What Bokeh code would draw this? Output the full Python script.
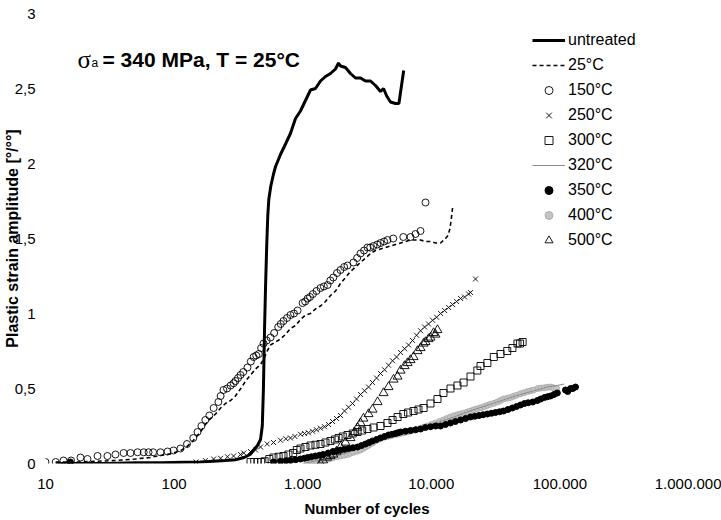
from bokeh.plotting import figure
from bokeh.models import Label, Legend, LegendItem, FixedTicker
from bokeh.embed import file_html
from bokeh.resources import INLINE

# ---------------- data ----------------
x_ticks = [10, 100, 1000, 10000, 100000, 1000000]
x_tick_labels = ["10", "100", "1.000", "10.000", "100.000", "1.000.000"]
y_ticks = [0, 0.5, 1, 1.5, 2, 2.5, 3]
y_tick_labels = ["0", "0,5", "1", "1,5", "2", "2,5", "3"]

series_names = ["untreated", "25°C", "150°C", "250°C", "300°C", "320°C", "350°C", "400°C", "500°C"]

untreated_N = [12, 20, 30, 50, 80, 120, 160, 200, 250, 300, 350, 390, 415, 445, 470, 485, 495, 505, 515, 525,
               535, 545, 565, 593, 615, 672, 735, 803, 879, 961, 1051, 1150, 1257, 1375, 1504, 1645, 1799, 1900,
               1967, 2151, 2353, 2574, 2815, 3078, 3367, 3682, 4027, 4250, 4500, 4817, 5268, 5600, 6100]
untreated_y = [0.0, 0.0, 0.0, 0.005, 0.005, 0.008, 0.01, 0.015, 0.02, 0.025, 0.04, 0.06, 0.09, 0.12, 0.16, 0.25,
               0.5, 0.9, 1.2, 1.45, 1.65, 1.76, 1.85, 1.93, 1.98, 2.06, 2.13, 2.2, 2.3, 2.35, 2.42, 2.49, 2.5, 2.55,
               2.58, 2.6, 2.63, 2.67, 2.65, 2.64, 2.6, 2.57, 2.57, 2.55, 2.55, 2.52, 2.48, 2.5, 2.45, 2.41, 2.4,
               2.4, 2.62]

d25_N = [12, 18, 25, 35, 50, 65, 80, 95, 112, 125, 140, 160, 175, 192, 210, 230, 251, 275, 300, 330, 360, 393,
         430, 470, 500, 530, 562, 615, 672, 735, 803, 880, 961, 1050, 1150, 1257, 1375, 1504, 1645, 1800, 1967,
         2151, 2353, 2574, 2815, 3078, 3367, 3682, 4027, 4405, 4817, 5268, 5762, 6300, 6900, 7540, 8240, 9016,
         9860, 10780, 11790, 12900, 13500, 14000, 14300, 14700]
d25_y = [0.01, 0.01, 0.015, 0.02, 0.03, 0.04, 0.055, 0.065, 0.085, 0.11, 0.15, 0.21, 0.26, 0.3, 0.33, 0.37, 0.4,
         0.42, 0.45, 0.5, 0.55, 0.59, 0.63, 0.66, 0.7, 0.75, 0.79, 0.81, 0.83, 0.86, 0.9, 0.92, 0.96, 0.99, 1.0,
         1.03, 1.05, 1.08, 1.12, 1.15, 1.2, 1.24, 1.28, 1.31, 1.34, 1.37, 1.4, 1.42, 1.43, 1.44, 1.45, 1.46, 1.47,
         1.48, 1.49, 1.49, 1.49, 1.48, 1.48, 1.47, 1.47, 1.5, 1.52, 1.57, 1.63, 1.72]

c150_N = [10, 12, 13.8, 15.8, 18.7, 21.2, 25.4, 30.3, 35, 40.5, 45.8, 52, 58, 63.3, 68.7, 78.4, 88.9, 99, 112,
          126, 141, 152, 163, 175, 188, 203, 221, 230, 242, 258, 275, 290, 300, 314, 328, 345, 372, 395, 415, 435,
          455, 475, 496, 525, 562, 600, 645, 675, 709, 755, 803, 855, 912, 998, 1045, 1092, 1140, 1200, 1280,
          1375, 1460, 1562, 1640, 1730, 1850, 1967, 2100, 2230, 2480, 2650, 2815, 3000, 3190, 3350, 3555, 3800,
          4027, 4300, 4560, 5060, 6060, 6892, 7537, 8244, 9016]
c150_y = [0.01, 0.01, 0.02, 0.02, 0.04, 0.03, 0.05, 0.05, 0.06, 0.07, 0.07, 0.075, 0.075, 0.075, 0.075, 0.075,
          0.08, 0.087, 0.1, 0.13, 0.17, 0.21, 0.25, 0.29, 0.32, 0.37, 0.41, 0.45, 0.49, 0.5, 0.52, 0.535, 0.55,
          0.57, 0.59, 0.61, 0.64, 0.68, 0.71, 0.72, 0.73, 0.77, 0.8, 0.82, 0.84, 0.87, 0.91, 0.93, 0.95, 0.97,
          0.99, 1.0, 1.02, 1.07, 1.08, 1.1, 1.11, 1.13, 1.15, 1.17, 1.18, 1.19, 1.22, 1.24, 1.27, 1.29, 1.31,
          1.32, 1.34, 1.37, 1.40, 1.42, 1.44, 1.44, 1.45, 1.46, 1.47, 1.48, 1.49, 1.5, 1.51, 1.51, 1.53, 1.55,
          1.74]

x250_N = [148, 175, 203, 230, 260, 290, 328, 348, 393, 430, 470, 530, 593, 672, 740, 803, 870, 961, 1033, 1109,
          1192, 1280, 1376, 1478, 1588, 1706, 1832, 1968, 2115, 2272, 2441, 2622, 2817, 3026, 3251, 3492, 3752,
          4031, 4330, 4652, 4998, 5369, 5768, 6197, 6657, 7152, 7683, 8254, 8867, 9526, 10234, 10994, 11811,
          12689, 13632, 14645, 15733, 16902, 18158, 19508, 20200, 22070]
x250_y = [0.01, 0.02, 0.03, 0.035, 0.045, 0.05, 0.06, 0.07, 0.08, 0.09, 0.11, 0.13, 0.14, 0.155, 0.165, 0.17,
          0.18, 0.195, 0.2, 0.205, 0.215, 0.225, 0.235, 0.245, 0.26, 0.28, 0.3, 0.32, 0.35, 0.375, 0.4, 0.43,
          0.46, 0.485, 0.51, 0.54, 0.57, 0.6, 0.625, 0.655, 0.685, 0.71, 0.74, 0.765, 0.79, 0.82, 0.855, 0.885,
          0.91, 0.93, 0.955, 0.975, 1.0, 1.02, 1.04, 1.06, 1.08, 1.1, 1.11, 1.13, 1.14, 1.23]

s300_N = [393, 420, 446, 475, 506, 550, 593, 650, 709, 775, 843, 900, 961, 1050, 1150, 1257, 1375, 1504, 1645,
          1780, 1900, 2050, 2230, 2450, 2670, 2900, 3190, 3555, 4027, 4560, 5000, 5470, 6060, 6600, 7276, 7950,
          8713, 9860, 11170, 12430, 14100, 15970, 17830, 20170, 22800, 24130, 27300, 30600, 34530, 38960, 42740,
          46790, 49000, 51300]
s300_y = [0.01, 0.01, 0.01, 0.01, 0.015, 0.03, 0.04, 0.045, 0.05, 0.06, 0.07, 0.09, 0.1, 0.11, 0.12, 0.125,
          0.13, 0.14, 0.15, 0.16, 0.17, 0.18, 0.19, 0.2, 0.21, 0.22, 0.23, 0.24, 0.25, 0.27, 0.29, 0.31, 0.33,
          0.34, 0.35, 0.36, 0.37, 0.4, 0.43, 0.47, 0.5, 0.52, 0.54, 0.58, 0.62, 0.65, 0.67, 0.71, 0.73, 0.75,
          0.77, 0.8, 0.8, 0.81]

l320_N = [1000, 1500, 2000, 3000, 4000, 6000, 10000, 15000, 20000, 30000, 45000, 60000, 80000, 95000, 108000]
l320_y = [0.0, 0.03, 0.06, 0.11, 0.16, 0.21, 0.26, 0.31, 0.35, 0.4, 0.45, 0.48, 0.51, 0.52, 0.53]

b350_N = [15.6, 593, 672, 740, 803, 880, 961, 1030, 1092, 1170, 1257, 1350, 1442, 1580, 1720, 1850, 1967, 2110,
          2272, 2460, 2670, 2870, 3078, 3280, 3492, 3750, 4027, 4330, 4652, 4950, 5268, 5500, 5768, 6300, 6892,
          7550, 8254, 9000, 9860, 10800, 11811, 12900, 14100, 15400, 16902, 18500, 20170, 21800, 23480, 25300,
          27300, 29400, 31570, 34000, 36480, 39500, 42740, 46000, 49390, 53000, 56700, 61500, 66800, 71000,
          75900, 80000, 84520, 90000, 95500, 110500, 115000, 120900, 126000, 132200]
b350_y = [0.01, 0.01, 0.015, 0.018, 0.02, 0.025, 0.03, 0.035, 0.04, 0.045, 0.05, 0.055, 0.06, 0.07, 0.08, 0.085,
          0.09, 0.095, 0.1, 0.105, 0.11, 0.12, 0.13, 0.14, 0.15, 0.16, 0.17, 0.18, 0.19, 0.195, 0.2, 0.205, 0.21,
          0.215, 0.22, 0.225, 0.23, 0.24, 0.245, 0.25, 0.25, 0.26, 0.27, 0.28, 0.29, 0.3, 0.31, 0.315, 0.32,
          0.325, 0.33, 0.335, 0.34, 0.345, 0.35, 0.36, 0.37, 0.38, 0.39, 0.4, 0.405, 0.41, 0.42, 0.43, 0.44,
          0.445, 0.45, 0.46, 0.47, 0.49, 0.48, 0.5, 0.5, 0.51]

g400_N = [1092, 1150, 1192, 1235, 1280, 1360, 1442, 1510, 1588, 1660, 1730, 1850, 1968, 2100, 2230, 2350, 2480,
          2650, 2815, 2950, 3078, 3220, 3367, 3520, 3682, 3850, 4027, 4290, 4560, 4820, 5087, 5420, 5768, 6090,
          6420, 6780, 7152, 7700, 8254, 8780, 9333, 10030, 10780, 11600, 12430, 13250, 14100, 15000, 15970,
          16900, 17830, 19000, 20170, 21450, 22800, 24300, 25900, 27350, 28870, 30750, 32700, 34550, 36480,
          38900, 41300, 43600, 46000, 49390, 52700, 56100, 59200, 62500, 67400, 71500, 75900, 80000, 84520,
          89000, 94200]
g400_y = [0.005, 0.008, 0.01, 0.012, 0.015, 0.018, 0.02, 0.025, 0.03, 0.035, 0.04, 0.045, 0.05, 0.055, 0.06,
          0.068, 0.075, 0.082, 0.09, 0.1, 0.11, 0.12, 0.13, 0.14, 0.15, 0.16, 0.17, 0.175, 0.18, 0.185, 0.19,
          0.195, 0.2, 0.205, 0.21, 0.215, 0.22, 0.228, 0.235, 0.243, 0.25, 0.26, 0.27, 0.28, 0.29, 0.3, 0.31,
          0.318, 0.325, 0.33, 0.335, 0.343, 0.35, 0.358, 0.365, 0.372, 0.38, 0.388, 0.395, 0.402, 0.41, 0.42,
          0.43, 0.435, 0.44, 0.448, 0.455, 0.465, 0.472, 0.48, 0.485, 0.49, 0.5, 0.503, 0.505, 0.508, 0.51,
          0.505, 0.5]

t500_N = [1375, 1442, 1545, 1645, 1730, 1832, 1968, 2151, 2353, 2527, 2670, 2815, 2968, 3251, 3492, 3822, 4253,
          4652, 5087, 5467, 5768, 6197, 6541, 6892, 7276, 7818, 8254, 8713, 9016, 9526, 9860, 10419, 10780, 11170]
t500_y = [0.0, 0.02, 0.04, 0.05, 0.06, 0.08, 0.11, 0.14, 0.17, 0.21, 0.24, 0.27, 0.3, 0.33, 0.36, 0.41, 0.47,
          0.51, 0.56, 0.58, 0.62, 0.65, 0.67, 0.69, 0.71, 0.75, 0.77, 0.8, 0.81, 0.83, 0.84, 0.87, 0.86, 0.89]

# ---------------- figure ----------------
FONT = "Liberation Sans"
W, H = 721, 520
L, R, T, B = 45, 33, 13, 57

p = figure(width=W, height=H, x_axis_type="log", x_range=(10, 1e6), y_range=(0, 3),
           output_backend="svg", toolbar_location=None,
           min_border_left=L, min_border_right=R, min_border_top=T, min_border_bottom=B)
p.outline_line_color = None
p.xgrid.visible = False
p.ygrid.visible = False
p.background_fill_color = "white"
p.border_fill_color = "white"

for ax in (p.xaxis[0], p.yaxis[0]):
    ax.axis_line_color = None
    ax.major_tick_line_color = None
    ax.minor_tick_line_color = None
    ax.major_tick_out = 0
    ax.major_tick_in = 0
    ax.minor_tick_out = 0
    ax.minor_tick_in = 0
    ax.major_label_text_font = FONT
    ax.major_label_text_font_size = "15px"
    ax.major_label_text_color = "black"
    ax.axis_label_text_font = FONT
    ax.axis_label_text_font_style = "bold"
    ax.axis_label_text_color = "black"

p.xaxis.ticker = FixedTicker(ticks=x_ticks, minor_ticks=[])
p.xaxis.major_label_overrides = {t: s for t, s in zip(x_ticks, x_tick_labels)}
p.xaxis.major_label_standoff = 15
p.xaxis.axis_label = "Number of cycles"
p.xaxis.axis_label_text_font_size = "15px"
p.xaxis.axis_label_standoff = 8

p.yaxis.ticker = FixedTicker(ticks=y_ticks, minor_ticks=[])
p.yaxis.major_label_overrides = {t: s for t, s in zip(y_ticks, y_tick_labels)}
p.yaxis.major_label_standoff = 10
p.yaxis.axis_label = "Plastic strain amplitude [°/°°]"
p.yaxis.axis_label_text_font_size = "16px"
p.yaxis.axis_label_standoff = -9

# ---------------- series ----------------
r400 = p.scatter(g400_N, g400_y, marker="circle", size=6, fill_color="#c4c4c4", line_color="#a6a6a6", line_width=0.8)
r320 = p.line(l320_N, l320_y, line_color="#8a8a8a", line_width=1)
r350 = p.scatter(b350_N, b350_y, marker="circle", size=6, fill_color="black", line_color="black")
r500 = p.scatter(t500_N, t500_y, marker="triangle", size=9, fill_color=None, line_color="black", line_width=0.9)
r300 = p.scatter(s300_N, s300_y, marker="square", size=7, fill_color=None, line_color="black", line_width=0.9)
r250 = p.scatter(x250_N, x250_y, marker="x", size=7, line_color="black", line_width=0.9)
r25 = p.line(d25_N, d25_y, line_color="black", line_width=1.6, line_dash="4 3")
r150 = p.scatter(c150_N, c150_y, marker="circle", size=7, fill_color=None, line_color="black", line_width=0.9)
runt = p.line(untreated_N, untreated_y, line_color="black", line_width=3)

# legend swatches: renderers holding a single NaN (never drawn), used only for the key's smaller glyphs
NAN = [float("nan")]
k150 = p.scatter(NAN, NAN, marker="circle", size=5, fill_color=None, line_color="black", line_width=0.9)
k250 = p.scatter(NAN, NAN, marker="x", size=5, line_color="black", line_width=0.9)
k300 = p.scatter(NAN, NAN, marker="square", size=6, fill_color=None, line_color="black", line_width=0.9)
k350 = p.scatter(NAN, NAN, marker="circle", size=5, fill_color="black", line_color="black")
k400 = p.scatter(NAN, NAN, marker="circle", size=5, fill_color="#c4c4c4", line_color="#a6a6a6", line_width=0.8)
k500 = p.scatter(NAN, NAN, marker="triangle", size=7, fill_color=None, line_color="black", line_width=0.9)

renderers = [runt, r25, k150, k250, k300, r320, k350, k400, k500]
legend = Legend(items=[LegendItem(label=n, renderers=[r]) for n, r in zip(series_names, renderers)],
                location=(487, 213), orientation="vertical",
                glyph_width=33, glyph_height=20, label_height=20, label_standoff=3, spacing=5,
                padding=0, margin=0, border_line_color=None, background_fill_alpha=0,
                label_text_font=FONT, label_text_font_size="16px", label_text_color="black",
                label_text_baseline="middle")
p.add_layout(legend, "center")

# ---------------- title ----------------
H_FRAME = H - T - B
def fy(y_abs):
    return H_FRAME - (y_abs - T)

p.add_layout(Label(x=77 - L, y=fy(59), x_units="screen", y_units="screen", text="σ",
                   text_font="Liberation Serif", text_font_size="25px", text_baseline="alphabetic",
                   text_align="left", text_color="black"))
p.add_layout(Label(x=91 - L, y=fy(62), x_units="screen", y_units="screen", text="a",
                   text_font=FONT, text_font_size="12px", text_baseline="alphabetic",
                   text_align="left", text_color="black"))
p.add_layout(Label(x=102 - L, y=fy(59), x_units="screen", y_units="screen", text="= 340 MPa, T = 25°C",
                   text_font=FONT, text_font_style="bold", text_font_size="21px", text_baseline="alphabetic",
                   text_align="left", text_color="black"))

open("out.html", "w").write(file_html(p, INLINE))
